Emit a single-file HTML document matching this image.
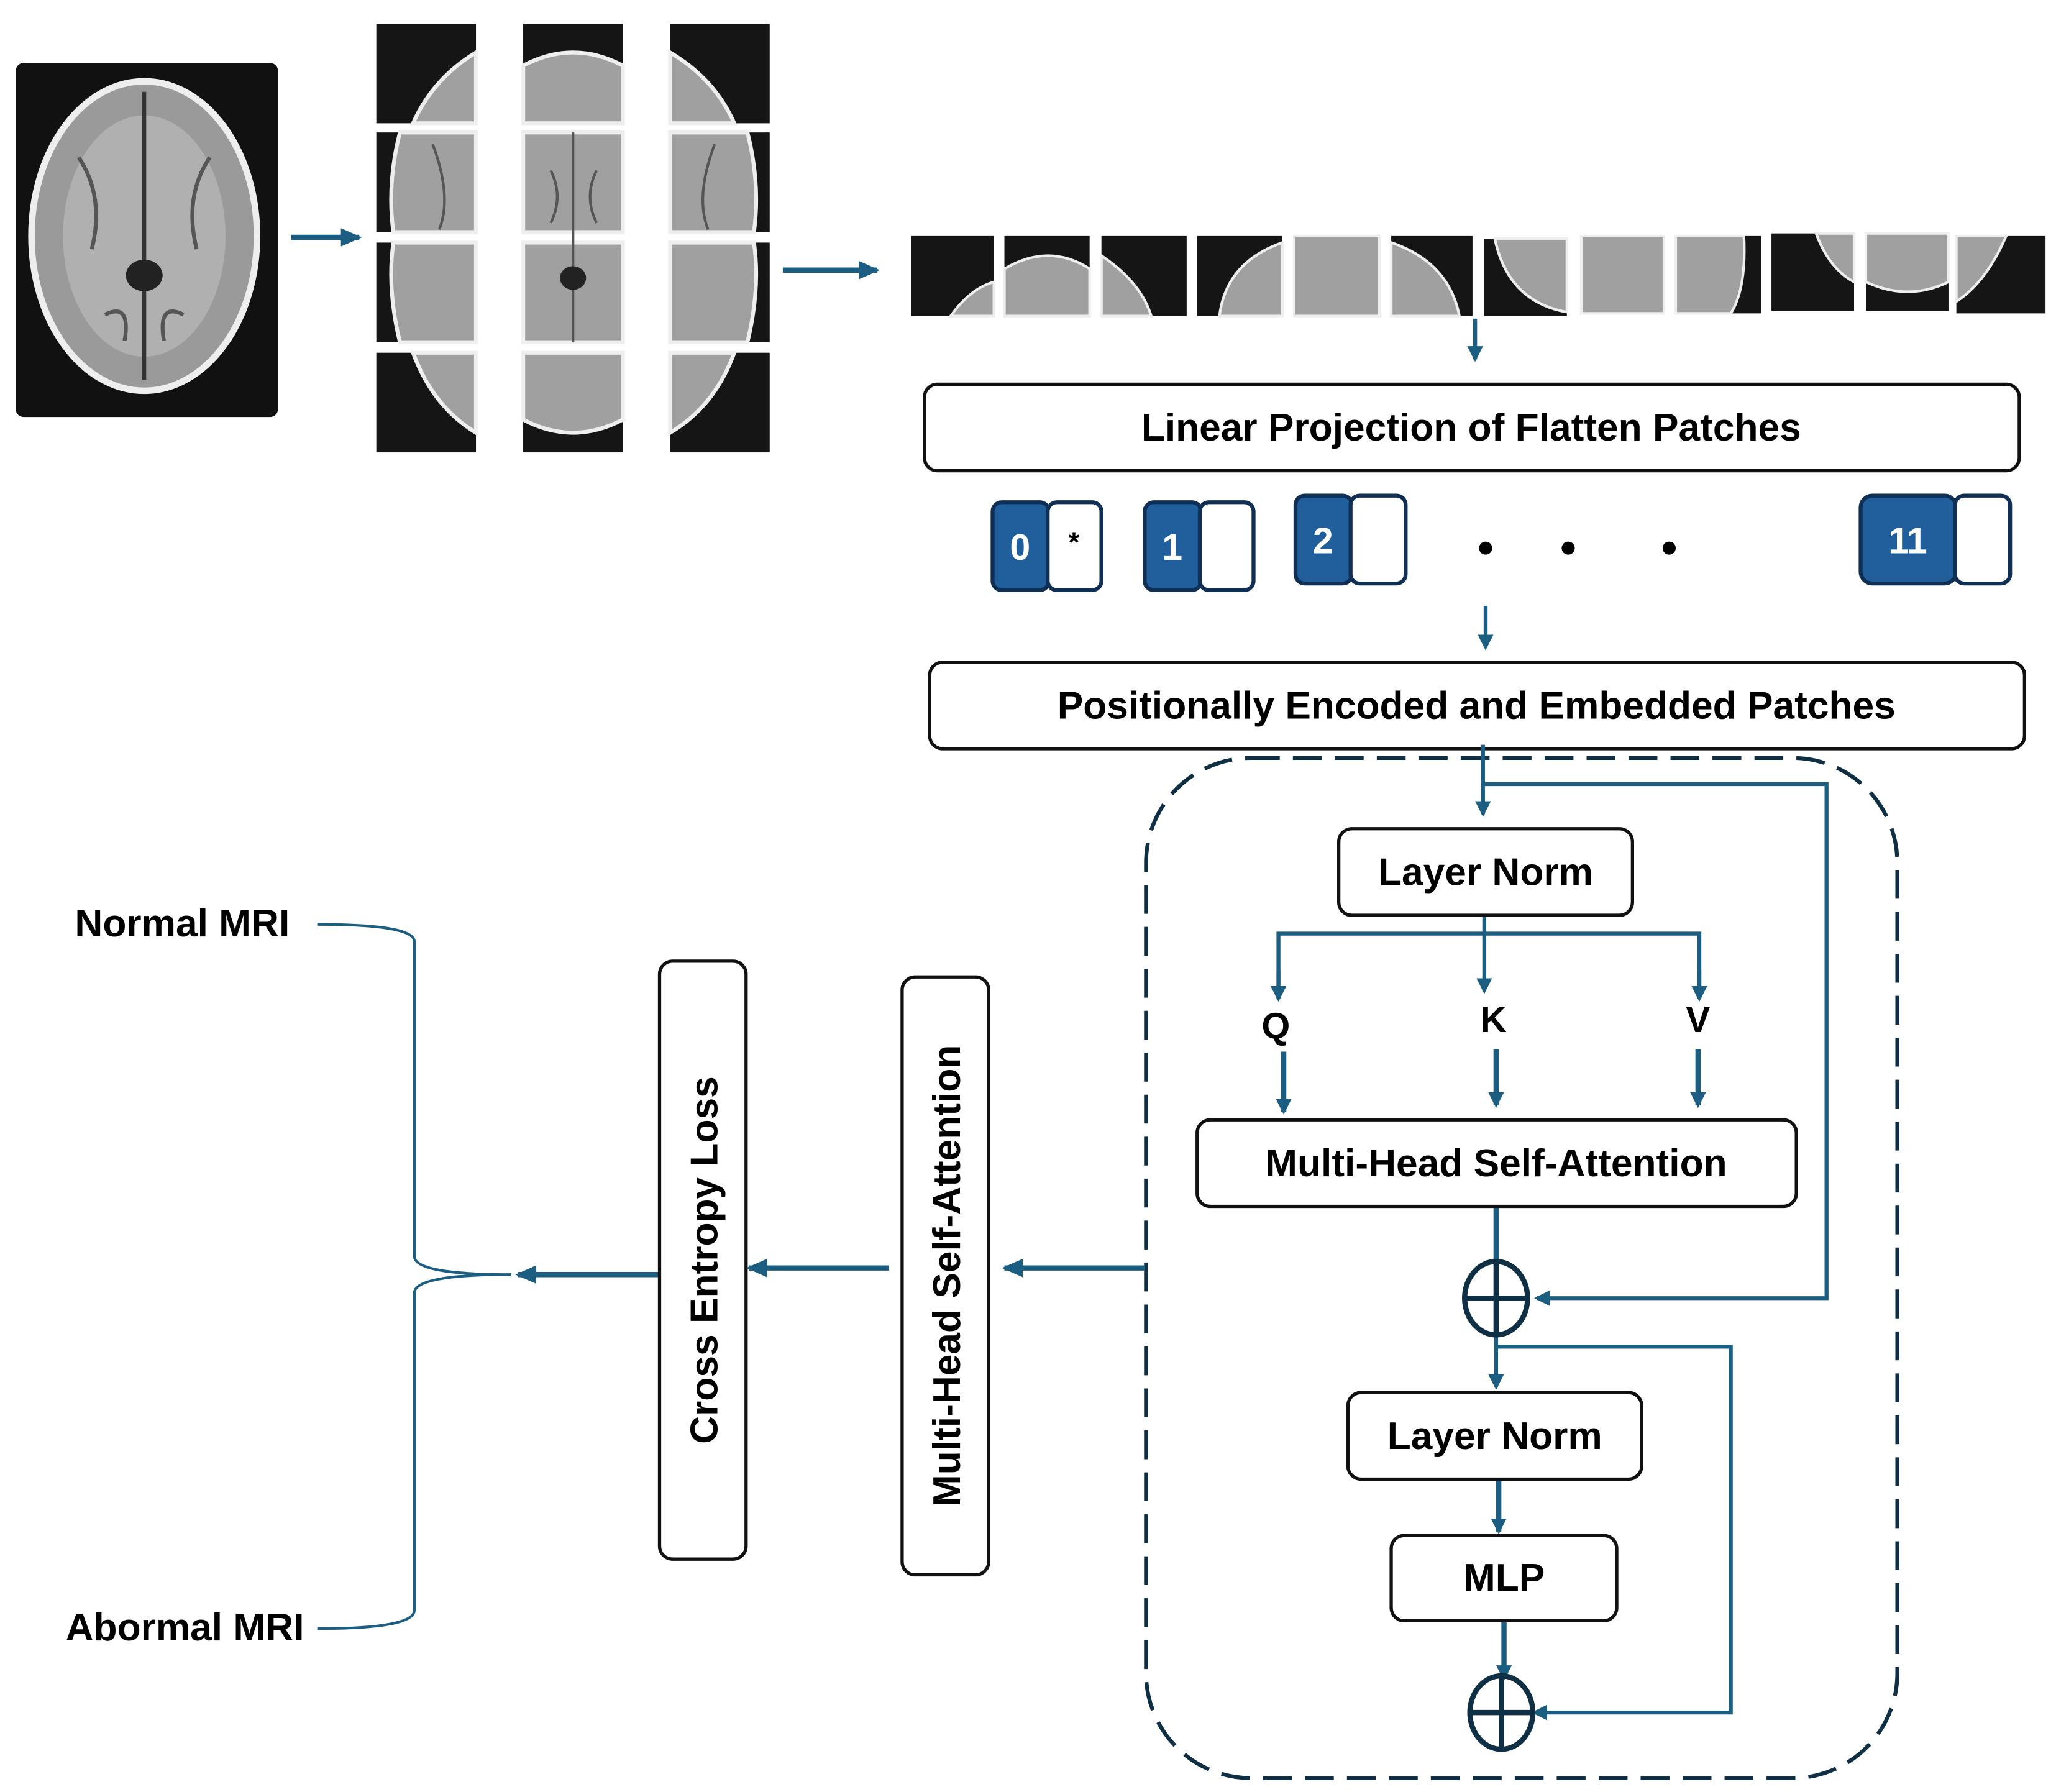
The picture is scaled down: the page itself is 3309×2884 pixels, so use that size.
<!DOCTYPE html>
<html><head><meta charset="utf-8"><style>
html,body{margin:0;padding:0;background:#fff;}
svg{display:block}
text{font-family:"Liberation Sans",sans-serif;font-weight:bold;fill:#000}
</style></head><body>
<svg width="3309" height="2884" viewBox="0 0 1568 1366.6" xmlns="http://www.w3.org/2000/svg">
<defs>
<marker id="a" markerWidth="12" markerHeight="12" refX="10" refY="6" orient="auto" markerUnits="userSpaceOnUse">
<path d="M0,0 L12,6 L0,12 z" fill="#1b5e82"/></marker>
<marker id="b" markerWidth="16" markerHeight="14" refX="14" refY="7" orient="auto" markerUnits="userSpaceOnUse">
<path d="M0,0 L16,7 L0,14 z" fill="#1b5e82"/></marker>
</defs>
<!-- big brain -->
<rect x="12" y="48" width="200" height="270" rx="6" fill="#111"/>
<ellipse cx="110" cy="180" rx="86" ry="118" fill="#9a9a9a" stroke="#eee" stroke-width="5"/>
<ellipse cx="110" cy="180" rx="62" ry="92" fill="#b0b0b0"/>
<path d="M60 120 Q80 150 70 190 M160 120 Q140 150 150 190 M80 240 Q100 230 95 260 M140 240 Q120 230 125 260" stroke="#555" stroke-width="3" fill="none"/>
<path d="M110 70 L110 290" stroke="#333" stroke-width="3"/>
<ellipse cx="110" cy="210" rx="14" ry="12" fill="#222"/>
<line x1="222" y1="181" x2="274" y2="181" stroke="#1b5e82" stroke-width="4" marker-end="url(#b)"/>
<!-- patch grid -->
<g fill="#151515">
<rect x="287" y="18" width="76" height="76"/><rect x="399" y="18" width="76" height="76"/><rect x="511" y="18" width="76" height="76"/>
<rect x="287" y="101" width="76" height="76"/><rect x="399" y="101" width="76" height="76"/><rect x="511" y="101" width="76" height="76"/>
<rect x="287" y="185" width="76" height="76"/><rect x="399" y="185" width="76" height="76"/><rect x="511" y="185" width="76" height="76"/>
<rect x="287" y="269" width="76" height="76"/><rect x="399" y="269" width="76" height="76"/><rect x="511" y="269" width="76" height="76"/>
</g>
<g fill="#a0a0a0" stroke="#eee" stroke-width="3">
<path d="M363 40 Q330 60 315 94 L363 94Z"/><path d="M399 50 Q437 30 475 50 L475 94 L399 94Z"/><path d="M511 40 Q545 60 560 94 L511 94Z"/>
<path d="M305 101 Q295 140 300 177 L363 177 L363 101Z"/><rect x="399" y="101" width="76" height="76"/><path d="M511 101 L570 101 Q580 140 575 177 L511 177Z"/>
<path d="M300 185 Q295 220 305 261 L363 261 L363 185Z"/><rect x="399" y="185" width="76" height="76"/><path d="M511 185 L575 185 Q580 220 570 261 L511 261Z"/>
<path d="M315 269 Q330 310 363 330 L363 269Z"/><path d="M399 269 L475 269 L475 320 Q437 340 399 320Z"/><path d="M511 269 L560 269 Q545 310 511 330Z"/>
</g>
<path d="M437 101 L437 261 M420 130 Q430 150 420 170 M455 130 Q445 150 455 170 M330 110 Q345 150 335 175 M545 110 Q530 150 540 175" stroke="#555" stroke-width="2" fill="none"/>
<ellipse cx="437" cy="212" rx="10" ry="9" fill="#222"/>
<line x1="597" y1="206" x2="669" y2="206" stroke="#1b5e82" stroke-width="4" marker-end="url(#b)"/>
<!-- strip -->
<g fill="#151515">
<rect x="695" y="180" width="63" height="61"/><rect x="766" y="180" width="65" height="61"/><rect x="840" y="180" width="65" height="61"/>
<rect x="913" y="180" width="65" height="61"/><rect x="987" y="180" width="65" height="61"/><rect x="1061" y="180" width="62" height="61"/>
<rect x="1132" y="182" width="63" height="59"/><rect x="1206" y="180" width="63" height="59"/><rect x="1278" y="180" width="65" height="59"/>
<rect x="1351" y="178" width="63" height="59"/><rect x="1423" y="178" width="63" height="59"/><rect x="1492" y="180" width="68" height="59"/>
</g>
<g fill="#a0a0a0" stroke="#eee" stroke-width="2">
<path d="M725 241 Q740 220 758 215 L758 241Z"/><path d="M766 205 Q800 185 831 205 L831 241 L766 241Z"/><path d="M840 195 Q870 215 878 241 L840 241Z"/>
<path d="M930 241 Q935 200 978 185 L978 241Z"/><rect x="987" y="180" width="65" height="61"/><path d="M1061 185 Q1105 200 1113 241 L1061 241Z"/>
<path d="M1140 182 Q1150 230 1195 238 L1195 182Z"/><rect x="1206" y="180" width="63" height="59"/><path d="M1278 180 L1330 180 Q1332 220 1320 239 L1278 239Z"/>
<path d="M1385 178 Q1395 205 1414 215 L1414 178Z"/><path d="M1423 178 L1486 178 L1486 215 Q1455 230 1423 215Z"/><path d="M1492 180 L1530 180 Q1515 215 1492 230Z"/>
</g>
<line x1="1125" y1="243" x2="1125" y2="274" stroke="#1b5e82" stroke-width="3" marker-end="url(#a)"/>
<rect x="705" y="293" width="835" height="66" rx="10" fill="#fff" stroke="#111" stroke-width="2.5"/>
<text x="1122" y="336" font-size="29.5" text-anchor="middle">Linear Projection of Flatten Patches</text>
<!-- tokens -->
<g stroke="#0f2f55" stroke-width="3">
<rect x="757" y="383" width="43" height="67" rx="7" fill="#205f9c"/><rect x="799" y="383" width="41" height="67" rx="7" fill="#fff"/>
<rect x="873" y="383" width="43" height="67" rx="7" fill="#205f9c"/><rect x="915" y="383" width="41" height="67" rx="7" fill="#fff"/>
<rect x="988" y="378" width="43" height="67" rx="7" fill="#205f9c"/><rect x="1030" y="378" width="42" height="67" rx="7" fill="#fff"/>
<rect x="1419" y="378" width="73" height="67" rx="9" fill="#205f9c"/><rect x="1491" y="378" width="42" height="67" rx="7" fill="#fff"/>
</g>
<g font-size="28" text-anchor="middle">
<text x="778" y="427" style="fill:#fff">0</text><text x="819" y="421" font-size="22">*</text>
<text x="894" y="427" style="fill:#fff">1</text><text x="1009" y="422" style="fill:#fff">2</text><text x="1455" y="422" style="fill:#fff">11</text>
</g>
<circle cx="1133" cy="418" r="5" fill="#000"/><circle cx="1196" cy="418" r="5" fill="#000"/><circle cx="1273" cy="418" r="5" fill="#000"/>
<line x1="1133" y1="462" x2="1133" y2="494" stroke="#1b5e82" stroke-width="3" marker-end="url(#a)"/>
<rect x="709" y="505" width="835" height="66" rx="10" fill="#fff" stroke="#111" stroke-width="2.5"/>
<text x="1126" y="548" font-size="29.5" text-anchor="middle">Positionally Encoded and Embedded Patches</text>
<!-- dashed encoder -->
<rect x="874" y="578" width="573" height="778" rx="80" fill="none" stroke="#0f2f45" stroke-width="3" stroke-dasharray="22,10"/>
<g stroke="#1b5e82" stroke-width="3" fill="none">
<line x1="1131" y1="568" x2="1131" y2="621" marker-end="url(#a)"/>
<polyline points="1131,598 1393,598 1393,990 1172,990" marker-end="url(#a)"/>
<line x1="1132" y1="698" x2="1132" y2="756" marker-end="url(#a)"/>
<polyline points="975,760 975,712 1296,712 1296,760"/>
<line x1="975" y1="740" x2="975" y2="762" marker-end="url(#a)"/>
<line x1="1296" y1="740" x2="1296" y2="762" marker-end="url(#a)"/>
<line x1="979" y1="802" x2="979" y2="848" stroke-width="4" marker-end="url(#a)"/>
<line x1="1141" y1="800" x2="1141" y2="843" stroke-width="4" marker-end="url(#a)"/>
<line x1="1295" y1="800" x2="1295" y2="843" stroke-width="4" marker-end="url(#a)"/>
<line x1="1141" y1="920" x2="1141" y2="965" stroke-width="4"/>
<line x1="1141" y1="1015" x2="1141" y2="1058" marker-end="url(#a)"/>
<polyline points="1141,1027 1320,1027 1320,1306 1170,1306" marker-end="url(#a)"/>
<line x1="1143" y1="1128" x2="1143" y2="1168" stroke-width="4" marker-end="url(#a)"/>
<line x1="1147" y1="1236" x2="1147" y2="1280" stroke-width="4" marker-end="url(#a)"/>
</g>
<rect x="1021" y="632" width="224" height="66" rx="10" fill="#fff" stroke="#111" stroke-width="2.5"/>
<text x="1133" y="675" font-size="29.5" text-anchor="middle">Layer Norm</text>
<text x="973" y="792" font-size="28" text-anchor="middle">Q</text>
<text x="1139" y="787" font-size="28" text-anchor="middle">K</text>
<text x="1295" y="787" font-size="28" text-anchor="middle">V</text>
<rect x="913" y="854" width="457" height="66" rx="10" fill="#fff" stroke="#111" stroke-width="2.5"/>
<text x="1141" y="897" font-size="29.5" text-anchor="middle">Multi-Head Self-Attention</text>
<g stroke="#0f2f45" stroke-width="4" fill="none">
<ellipse cx="1141" cy="990" rx="24" ry="28"/><line x1="1117" y1="990" x2="1165" y2="990"/><line x1="1141" y1="962" x2="1141" y2="1018"/>
<ellipse cx="1145" cy="1306" rx="24" ry="28"/><line x1="1121" y1="1306" x2="1169" y2="1306"/><line x1="1145" y1="1278" x2="1145" y2="1334"/>
</g>
<rect x="1028" y="1062" width="224" height="66" rx="10" fill="#fff" stroke="#111" stroke-width="2.5"/>
<text x="1140" y="1105" font-size="29.5" text-anchor="middle">Layer Norm</text>
<rect x="1061" y="1171" width="172" height="65" rx="10" fill="#fff" stroke="#111" stroke-width="2.5"/>
<text x="1147" y="1213" font-size="29.5" text-anchor="middle">MLP</text>
<!-- left side -->
<g stroke="#1b5e82" stroke-width="4" fill="none">
<line x1="873" y1="967" x2="766" y2="967" marker-end="url(#b)"/>
<line x1="678" y1="967" x2="571" y2="967" marker-end="url(#b)"/>
<line x1="502" y1="972" x2="395" y2="972" marker-end="url(#b)"/>
</g>
<rect x="688" y="745" width="66" height="456" rx="10" fill="#fff" stroke="#111" stroke-width="2.5"/>
<text transform="translate(732,973) rotate(-90)" font-size="29.5" text-anchor="middle">Multi-Head Self-Attention</text>
<rect x="503" y="733" width="66" height="456" rx="10" fill="#fff" stroke="#111" stroke-width="2.5"/>
<text transform="translate(547,961) rotate(-90)" font-size="29.5" text-anchor="middle">Cross Entropy Loss</text>
<path d="M242 705 Q316 705 316 718 L316 958 Q316 972 390 972 Q316 972 316 986 L316 1228 Q316 1242 242 1242" fill="none" stroke="#1b5e82" stroke-width="2"/>
<text x="139" y="714" font-size="29.5" text-anchor="middle">Normal MRI</text>
<text x="141" y="1251" font-size="29.5" text-anchor="middle">Abormal MRI</text>
</svg>
</body></html>
